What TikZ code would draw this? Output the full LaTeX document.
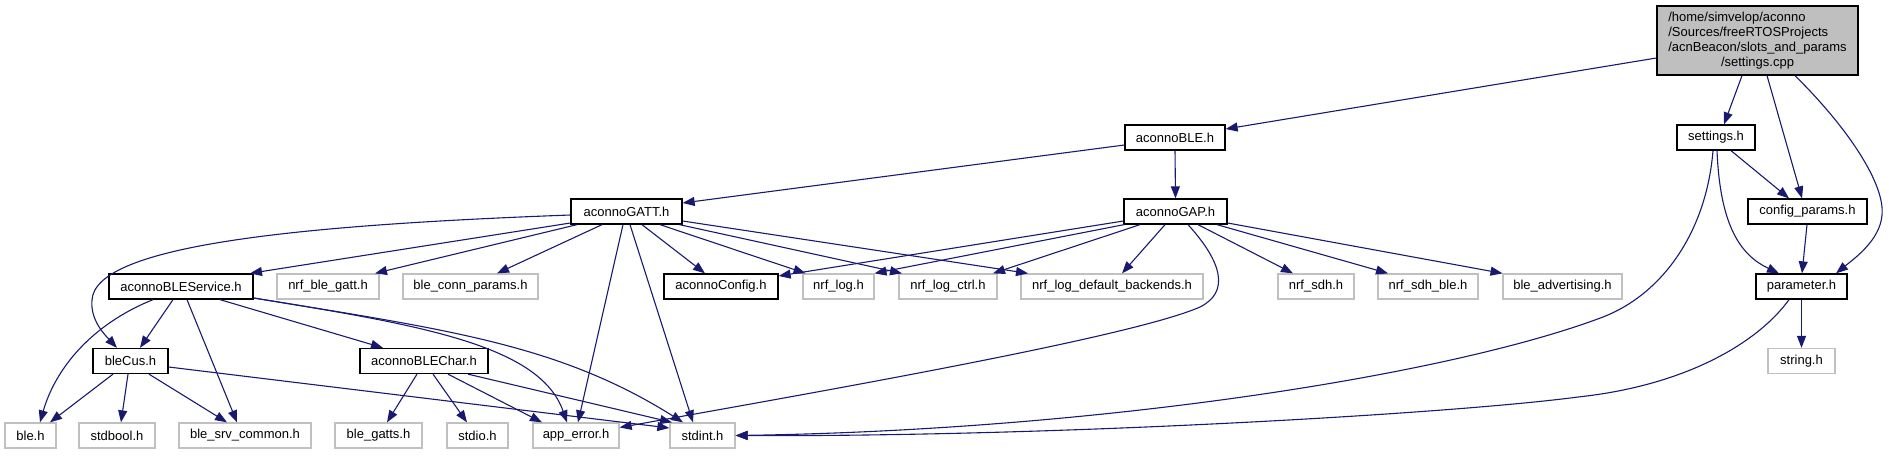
\documentclass[tikz,border=0pt]{standalone}
\usepackage{fontspec}
\setmainfont{Liberation Sans}
\usetikzlibrary{arrows.meta,calc}
\definecolor{edgeblue}{HTML}{191970}
\definecolor{boxgray}{HTML}{BFBFBF}
\definecolor{lightborder}{HTML}{C0C0C0}
\begin{document}
\begin{tikzpicture}[x=1pt,y=-1pt,
  box/.style={draw=black, line width=1.3pt, fill=white, inner sep=0pt, minimum height=25pt, font=\fontsize{13}{15}\selectfont},
  gbox/.style={box, draw=lightborder},
  e/.style={draw=edgeblue, line width=1.1pt, -{Triangle[length=12pt,width=9pt]}},
]
\useasboundingbox (0,0) rectangle (1889,455);
% nodes
\node[box, fill=boxgray, minimum width=201, minimum height=69] (main) at (1757.5,40.5)
  {\begin{tabular}{@{}l@{}}/home/simvelop/aconno\\/Sources/freeRTOSProjects\\/acnBeacon/slots\_and\_params\\\multicolumn{1}{@{}c@{}}{/settings.cpp}\end{tabular}};
\node[box, minimum width=100] (ble) at (1175,137.5) {aconnoBLE.h};
\node[box, minimum width=78] (settings) at (1716,137.5) {settings.h};
\node[box, minimum width=111] (gatt) at (626.5,211.5) {aconnoGATT.h};
\node[box, minimum width=103] (gap) at (1175.5,211.5) {aconnoGAP.h};
\node[box, minimum width=119] (cfg) at (1807.5,211.5) {config\_params.h};
\node[box, minimum width=144] (svc) at (181,286.5) {aconnoBLEService.h};
\node[gbox, minimum width=102] (gattm) at (328,286.5) {nrf\_ble\_gatt.h};
\node[gbox, minimum width=135] (conn) at (470.5,286.5) {ble\_conn\_params.h};
\node[box, minimum width=114] (config) at (721,286.5) {aconnoConfig.h};
\node[gbox, minimum width=71] (log) at (838.5,286.5) {nrf\_log.h};
\node[gbox, minimum width=98] (logctrl) at (948,286.5) {nrf\_log\_ctrl.h};
\node[gbox, minimum width=182] (logdef) at (1112,286.5) {nrf\_log\_default\_backends.h};
\node[gbox, minimum width=76] (sdh) at (1316,286.5) {nrf\_sdh.h};
\node[gbox, minimum width=100] (sdhble) at (1428,286.5) {nrf\_sdh\_ble.h};
\node[gbox, minimum width=119] (adv) at (1562.5,286.5) {ble\_advertising.h};
\node[box, minimum width=91] (param) at (1801.5,286.5) {parameter.h};
\node[box, minimum width=75] (blecus) at (130.5,361) {bleCus.h};
\node[box, minimum width=128] (char) at (424,361) {aconnoBLEChar.h};
\node[gbox, minimum width=67] (string) at (1801.5,361) {string.h};
\node[gbox, minimum width=51] (bleh) at (30.5,435.5) {ble.h};
\node[gbox, minimum width=76] (stdbool) at (117,435.5) {stdbool.h};
\node[gbox, minimum width=132] (srv) at (245,435.5) {ble\_srv\_common.h};
\node[gbox, minimum width=87] (gatts) at (378.5,435.5) {ble\_gatts.h};
\node[gbox, minimum width=61] (stdio) at (477.5,435.5) {stdio.h};
\node[gbox, minimum width=86] (apperr) at (576,435.5) {app\_error.h};
\node[gbox, minimum width=65] (stdint) at (702.5,435.5) {stdint.h};
% edges from main
\draw[e] ($(main.west)+(0,17.5)$) -- ($(ble.east)+(0,-8.5)$);
\draw[e] ($(main.south)+(-15.5,0)$) -- ($(settings.north)+(8,0)$);
\draw[e] ($(main.south)+(9.5,0)$) -- ($(cfg.north)+(-5.5,0)$);
\draw[e] ($(main.south)+(37.5,0)$) .. controls (1850,130) and (1885,185) .. (1882,215) .. controls (1880,240) and (1855,258) .. ($(param.north)+(34.5,0)$);
% settings.h
\draw[e] ($(settings.south)+(15,0)$) -- ($(cfg.north)+(-18.5,0)$);
\draw[e] ($(settings.south)+(1,0)$) .. controls (1720,225) and (1740,255) .. ($(param.north)+(-22.5,0)$);
\draw[e] ($(settings.south)+(-3,0)$) .. controls (1706,235) and (1660,295) .. (1603,317) .. controls (1450,375) and (1100,430) .. (stdint.east);
% config_params / parameter
\draw[e] ($(cfg.south)+(-0.5,0)$) -- ($(param.north)+(0.5,0)$);
\draw[e] (param.south) -- (string.north);
\draw[e] ($(param.south)+(-12.5,0)$) .. controls (1760,340) and (1690,385) .. (1578,397) .. controls (1450,414) and (1050,437) .. (stdint.east);
% aconnoBLE
\draw[e] ($(ble.west)+(0,7.5)$) -- ($(gatt.east)+(0,-8.5)$);
\draw[e] (ble.south) -- (gap.north);
% aconnoGATT
\draw[e] ($(gatt.west)+(0,3.5)$) .. controls (300,225) and (95,245) .. (92,300) .. controls (90,320) and (105,335) .. ($(blecus.north)+(-13.5,0)$);
\draw[e] ($(gatt.west)+(0,11.5)$) -- ($(svc.north)+(69,0)$);
\draw[e] ($(gatt.south)+(-49.5,0)$) -- ($(gattm.north)+(47,0)$);
\draw[e] ($(gatt.south)+(-24.5,0)$) -- ($(conn.north)+(26.5,0)$);
\draw[e] ($(gatt.south)+(-3.5,0)$) -- ($(apperr.north)+(2,0)$);
\draw[e] ($(gatt.south)+(3.5,0)$) -- ($(stdint.north)+(-9.5,0)$);
\draw[e] ($(gatt.south)+(15.5,0)$) -- ($(config.north)+(-16,0)$);
\draw[e] ($(gatt.south)+(33.5,0)$) -- ($(log.north)+(-33,0)$);
\draw[e] ($(gatt.south)+(53,0)$) -- ($(logctrl.north)+(-46,0)$);
\draw[e] ($(gatt.east)+(0,9.5)$) -- ($(logdef.north)+(-84,0)$);
% aconnoGAP
\draw[e] ($(gap.west)+(0,9.5)$) -- ($(config.east)+(0,-10.5)$);
\draw[e] ($(gap.south)+(-51.5,0)$) -- ($(log.north)+(36,0)$);
\draw[e] ($(gap.south)+(-35.5,0)$) -- ($(logctrl.north)+(45,0)$);
\draw[e] ($(gap.south)+(-10.5,0)$) -- ($(logdef.north)+(10,0)$);
\draw[e] ($(gap.south)+(12.5,0)$) .. controls (1222,262) and (1230,292) .. (1200,307) .. controls (1130,338) and (800,395) .. ($(apperr.east)+(0,-8)$);
\draw[e] ($(gap.south)+(22.5,0)$) -- ($(sdh.north)+(-23,0)$);
\draw[e] ($(gap.south)+(41.5,0)$) -- ($(sdhble.north)+(-40,0)$);
\draw[e] ($(gap.east)+(0,11.5)$) -- ($(adv.north)+(-60,0)$);
% aconnoBLEService
\draw[e] ($(svc.south)+(-28,0)$) .. controls (90,325) and (55,370) .. ($(bleh.north)+(9.5,0)$);
\draw[e] ($(svc.south)+(-8,0)$) -- ($(blecus.north)+(9.5,0)$);
\draw[e] ($(svc.south)+(6,0)$) -- ($(srv.north)+(-8,0)$);
\draw[e] ($(svc.south)+(39,0)$) -- ($(char.north)+(-41,0)$);
\draw[e] ($(svc.east)+(0,11.5)$) .. controls (420,325) and (540,345) .. ($(apperr.north)+(-9,0)$);
\draw[e] ($(svc.east)+(0,11.5)$) .. controls (450,330) and (560,345) .. ($(stdint.north)+(-19.5,0)$);
% bleCus
\draw[e] ($(blecus.south)+(-17.5,0)$) -- ($(bleh.north)+(19.5,0)$);
\draw[e] ($(blecus.south)+(-2.5,0)$) -- ($(stdbool.north)+(4,0)$);
\draw[e] ($(blecus.south)+(18.5,0)$) -- ($(srv.north)+(-18,0)$);
\draw[e] ($(blecus.east)+(0,6)$) -- ($(stdint.west)+(0,-7.5)$);
% aconnoBLEChar
\draw[e] ($(char.south)+(-7,0)$) -- ($(gatts.north)+(8.5,0)$);
\draw[e] ($(char.south)+(9,0)$) -- ($(stdio.north)+(-10.5,0)$);
\draw[e] ($(char.south)+(24,0)$) -- ($(apperr.north)+(-34,0)$);
\draw[e] ($(char.south)+(44,0)$) -- ($(stdint.north)+(-30.5,0)$);
\end{tikzpicture}
\end{document}
